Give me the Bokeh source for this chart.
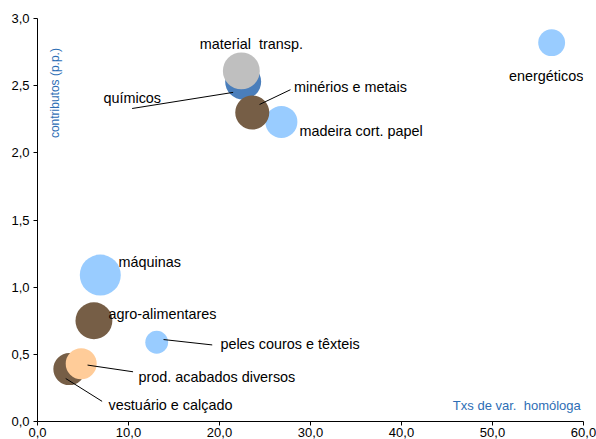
from bokeh.plotting import figure
from bokeh.models import ColumnDataSource, Range1d, FixedTicker, CustomJSTickFormatter, Label
from bokeh.core.properties import value
from bokeh.embed import file_html
from bokeh.resources import INLINE
import math

# data (draw order)
sectors = ["energéticos", "peles couros e têxteis", "madeira cort. papel", "químicos",
           "minérios e metais", "material  transp.", "máquinas", "agro-alimentares",
           "vestuário e calçado", "prod. acabados diversos"]
growth = [56.5, 13.1, 26.8, 22.6, 23.6, 22.4, 6.9, 6.2, 3.5, 4.8]
contrib = [2.82, 0.59, 2.23, 2.53, 2.30, 2.61, 1.09, 0.75, 0.39, 0.43]
weight = [4.3, 3.1, 6.1, 7.7, 6.9, 8.1, 10.0, 8.1, 6.1, 5.7]
colors = ["#99CCFF", "#99CCFF", "#99CCFF", "#4A7EBB", "#765E46", "#BFBFBF",
          "#99CCFF", "#765E46", "#765E46", "#FFCC99"]
x_ticks = [0, 10, 20, 30, 40, 50, 60]
y_ticks = [0, 0.5, 1.0, 1.5, 2.0, 2.5, 3.0]

# label placement (annotation styling)
label_pos = {
    "energéticos": (55.9, 2.57, "center"),
    "material  transp.": (23.5, 2.81, "center"),
    "químicos": (7.25, 2.41, "left"),
    "minérios e metais": (28.2, 2.49, "left"),
    "madeira cort. papel": (28.8, 2.16, "left"),
    "máquinas": (8.9, 1.19, "left"),
    "agro-alimentares": (7.8, 0.80, "left"),
    "peles couros e têxteis": (20.1, 0.58, "left"),
    "prod. acabados diversos": (11.1, 0.33, "left"),
    "vestuário e calçado": (7.8, 0.12, "left"),
}
leaders = [
    ((10.4, 2.33), (21.5, 2.45)),
    ((24.4, 2.36), (27.8, 2.47)),
    ((13.85, 0.61), (19.2, 0.57)),
    ((5.5, 0.42), (10.5, 0.37)),
    ((3.1, 0.32), (7.1, 0.15)),
]

FONT = "Liberation Sans"
diam = [41 * math.sqrt(w / 10.0) for w in weight]
src = ColumnDataSource(dict(x=growth, y=contrib, d=diam, c=colors, name=sectors))

p = figure(width=596, height=439, output_backend="svg", toolbar_location=None,
           x_range=Range1d(0, 60), y_range=Range1d(0, 3),
           min_border_left=37, min_border_top=18, min_border_right=13, min_border_bottom=0)
p.outline_line_color = None
p.xgrid.visible = False
p.ygrid.visible = False
p.background_fill_color = "white"

p.scatter("x", "y", size="d", fill_color="c", line_color=None, fill_alpha=1.0, source=src)

for (a, b) in leaders:
    p.line([a[0], b[0]], [a[1], b[1]], line_color="black", line_width=1)

for name, (lx, ly, al) in label_pos.items():
    p.add_layout(Label(x=lx, y=ly, text=name.replace("  ", "\u00a0 "), text_align=al,
                       text_baseline="middle", text_font=FONT, text_font_size="14.4px",
                       text_color="#000000"))

fmt = CustomJSTickFormatter(code="return tick.toFixed(1).replace('.', ',');")
for ax, t in ((p.xaxis[0], x_ticks), (p.yaxis[0], y_ticks)):
    ax.ticker = FixedTicker(ticks=t)
    ax.formatter = fmt
    ax.minor_tick_line_color = None
    ax.major_tick_out = 4
    ax.major_tick_in = 0
    ax.axis_line_color = "black"
    ax.major_tick_line_color = "black"
    ax.major_label_text_font = FONT
    ax.major_label_text_font_size = "13px"
    ax.major_label_text_color = "#000000"
p.xaxis.major_label_standoff = 2
p.yaxis.major_label_standoff = 4

p.add_layout(Label(x=1.9, y=2.78, text="contributos (p.p.)", angle=math.pi / 2,
                   text_align="right", text_baseline="middle", text_font=FONT,
                   text_font_size="12px", text_color="#2E6EB5"))
p.add_layout(Label(x=59.7, y=0.12, text="Txs de var.\u00a0 homóloga", text_align="right",
                   text_baseline="middle", text_font=FONT, text_font_size="13px",
                   text_color="#2E6EB5"))

open("out.html", "w").write(file_html(p, INLINE))
